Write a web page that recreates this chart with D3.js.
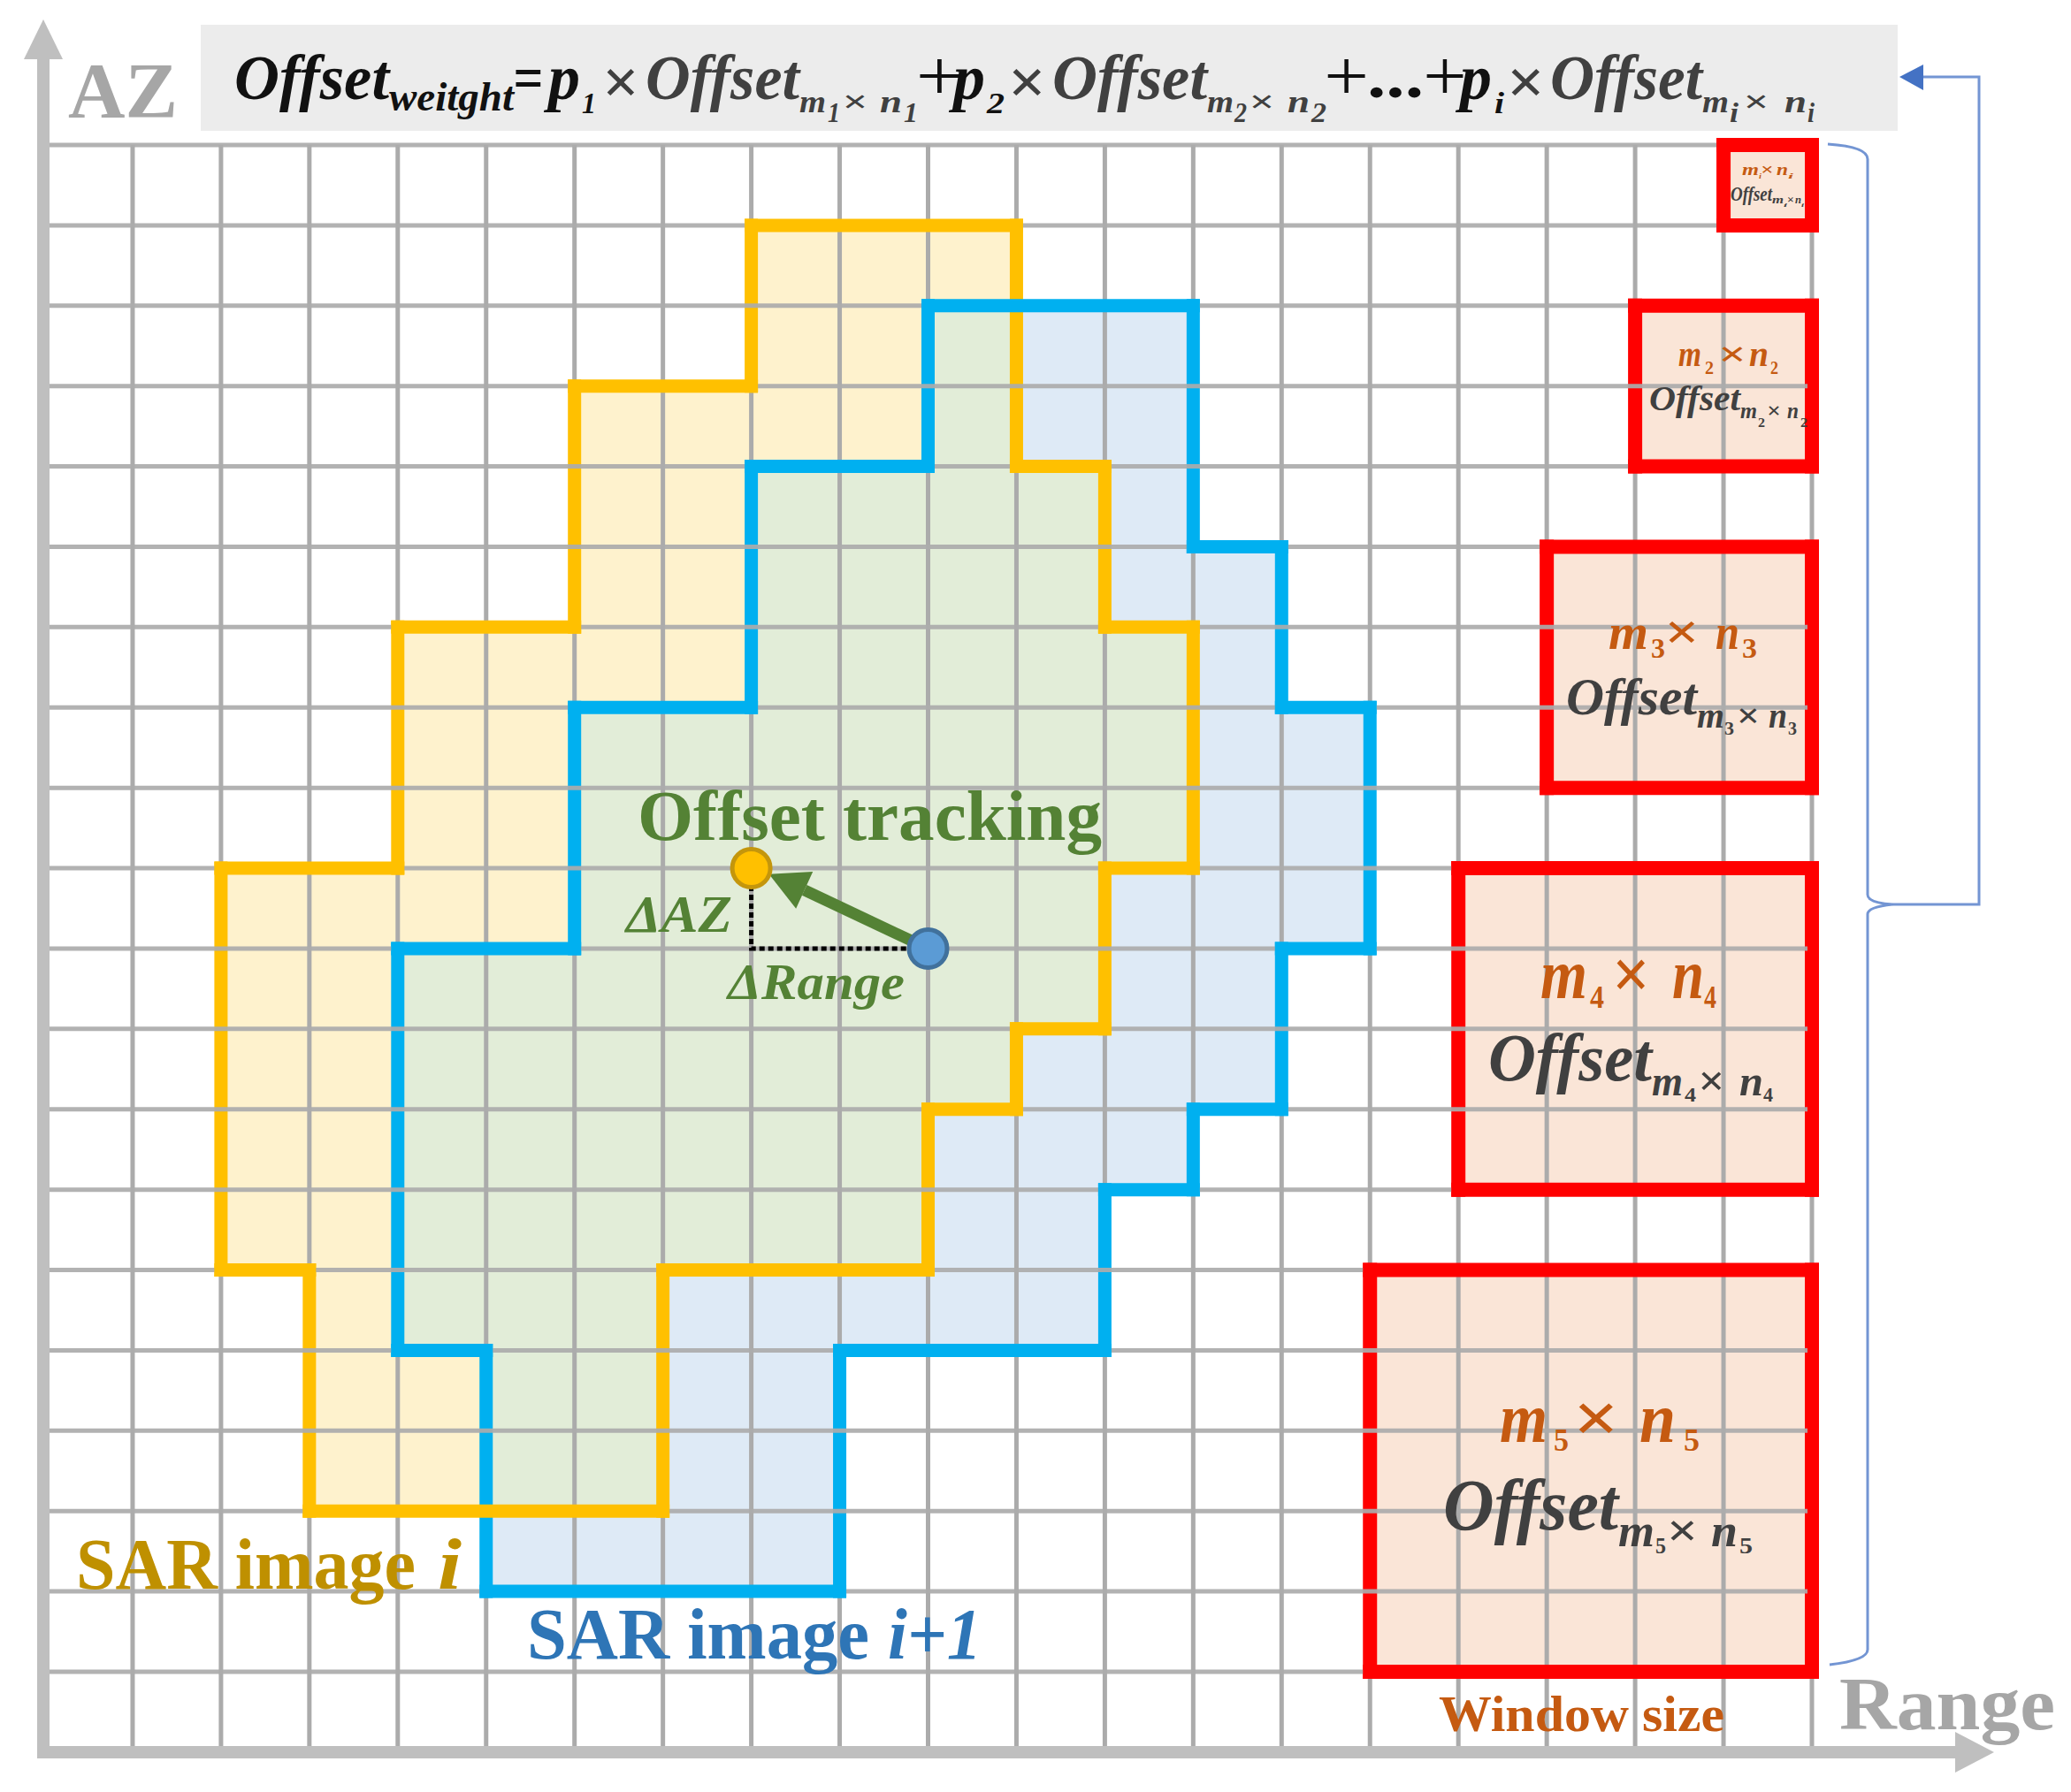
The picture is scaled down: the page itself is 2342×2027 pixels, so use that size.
<!DOCTYPE html>
<html>
<head>
<meta charset="utf-8">
<script src="https://cdn.jsdelivr.net/npm/d3@7"></script>
<style>
  body { margin: 0; background: #fff; }
  svg { display: block; }
  text { font-family: "Liberation Serif", serif; }
</style>
</head>
<body>
<svg id="chart" width="2342" height="2027"></svg>
<script>
// grid cells, columns along Range and rows along AZ
var colCount = 20;
var rowCount = 19;

// outlines of the two SAR images, as [column, row] corners
var imageOutlineI = [[8,1],[11,1],[11,4],[12,4],[12,6],[13,6],[13,9],[12,9],[12,11],[11,11],[11,12],[10,12],[10,14],[7,14],[7,17],[3,17],[3,14],[2,14],[2,9],[4,9],[4,6],[6,6],[6,3],[8,3]];
var imageOutlineNext = [[10,2],[13,2],[13,5],[14,5],[14,7],[15,7],[15,10],[14,10],[14,12],[13,12],[13,13],[12,13],[12,15],[9,15],[9,18],[5,18],[5,15],[4,15],[4,10],[6,10],[6,7],[8,7],[8,4],[10,4]];

// search windows: first column, first row, last column, last row
var windowBoxes = [[19,0,20,1],[18,2,20,4],[17,5,20,8],[16,9,20,13],[15,14,20,19]];

// tracked point before and after, as [column, row]
var pointBefore = [10,10];
var pointAfter = [8,9];

var svg = d3.select("#chart");
var x = d3.scaleLinear().domain([0, colCount]).range([50, 2049]);
var y = d3.scaleLinear().domain([0, rowCount]).range([164, 1891]);

var gridColor = "#ababab";
var axisColor = "#bfbfbf";
var red = "#ff0000";
var darkText = "#404040";
var orangeText = "#c55a11";
var green = "#548235";

var line = d3.line().x(function(d) { return x(d[0]); }).y(function(d) { return y(d[1]); }).curve(d3.curveLinearClosed);

function edges(corners) {
   return corners.map(function(c, i) { return [c, corners[(i + 1) % corners.length]]; });
}
function boxCorners(b) {
   return [[b[0],b[1]],[b[2],b[1]],[b[2],b[3]],[b[0],b[3]]];
}
function drawEdges(list, color, width) {
   svg.append("g").selectAll("line").data(list).join("line")
      .attr("x1", function(d) { return x(d[0][0]); })
      .attr("y1", function(d) { return y(d[0][1]); })
      .attr("x2", function(d) { return x(d[1][0]); })
      .attr("y2", function(d) { return y(d[1][1]); })
      .attr("stroke", color)
      .attr("stroke-width", width)
      .attr("stroke-linecap", "square");
}
function isVertical(e) { return e[0][0] == e[1][0]; }
function isHorizontal(e) { return e[0][1] == e[1][1]; }

function txt(str, px, base, size, width, color, bold, italic) {
   var t = svg.append("text")
      .attr("x", px)
      .attr("y", base)
      .attr("font-size", size)
      .attr("fill", color)
      .attr("font-weight", bold === false ? "normal" : "bold")
      .attr("font-style", italic === false ? "normal" : "italic")
      .text(str);
   if (width) t.attr("textLength", width).attr("lengthAdjust", "spacingAndGlyphs");
   return t;
}

// x0 and x1 are the ink edges of an operator sign, the advance is a bit wider
function sign(str, x0, x1, base, size, color, bold) {
   var w = x1 - x0;
   txt(str, x0 - w * 0.15, base, size, w * 1.3, color, bold, false);
}

// m x n text, xs holds start and end of m, index, cross, n, index
function sizeLabel(sub, base, subBase, size, color, xs, subScale, upright) {
   var subSize = size * (subScale || 0.5);
   txt("m", xs[0], base, size, xs[1] - xs[0], color);
   txt(sub, xs[2], subBase, subSize, xs[3] - xs[2], color, true, !upright);
   sign("×", xs[4], xs[5], base, size, color, true);
   txt("n", xs[6], base, size, xs[7] - xs[6], color);
   txt(sub, xs[8], subBase, subSize, xs[9] - xs[8], color, true, !upright);
}

// formula band
svg.append("rect").attr("x", 227).attr("y", 28).attr("width", 1919).attr("height", 120).attr("fill", "#ececec");

// image and window fills
svg.append("clipPath").attr("id", "clip-next").append("path").attr("d", line(imageOutlineNext));
svg.append("path").attr("d", line(imageOutlineI)).attr("fill", "#fef2cd");
svg.append("path").attr("d", line(imageOutlineNext)).attr("fill", "#deeaf6");
svg.append("path").attr("d", line(imageOutlineI)).attr("fill", "#e2edd8").attr("clip-path", "url(#clip-next)");
svg.append("g").selectAll("path").data(windowBoxes).join("path")
   .attr("d", function(d) { return line(boxCorners(d)); })
   .attr("fill", "#fae5d7");

// vertical grid, then vertical strokes, then horizontal grid, then horizontal strokes
svg.append("g").selectAll("line").data(d3.range(1, colCount + 1)).join("line")
   .attr("x1", function(d) { return x(d); }).attr("x2", function(d) { return x(d); })
   .attr("y1", y(0)).attr("y2", 1978)
   .attr("stroke", gridColor).attr("stroke-width", 5);

var boxEdges = d3.merge(windowBoxes.map(function(b) { return edges(boxCorners(b)); }));
drawEdges(edges(imageOutlineI).filter(isVertical), "#ffc000", 15);
drawEdges(edges(imageOutlineNext).filter(isVertical), "#00b0f0", 15);
drawEdges(boxEdges.filter(isVertical), red, 16);

svg.append("g").selectAll("line").data(d3.range(0, rowCount + 1)).join("line")
   .attr("x1", x(0)).attr("x2", x(colCount) - 5)
   .attr("y1", function(d) { return y(d); }).attr("y2", function(d) { return y(d); })
   .attr("stroke", gridColor).attr("stroke-width", 5).attr("stroke-opacity", 0.92);

drawEdges(edges(imageOutlineNext).filter(isHorizontal), "#00b0f0", 15);
drawEdges(edges(imageOutlineI).filter(isHorizontal), "#ffc000", 15);
drawEdges(boxEdges.filter(isHorizontal), red, 16);

// axes
svg.append("line").attr("x1", 49).attr("x2", 49).attr("y1", 60).attr("y2", 1989).attr("stroke", axisColor).attr("stroke-width", 14);
svg.append("line").attr("x1", 42).attr("x2", 2220).attr("y1", 1982).attr("y2", 1982).attr("stroke", axisColor).attr("stroke-width", 14);
svg.append("path").attr("d", "M49,22L71,67L27,67Z").attr("fill", axisColor);
svg.append("path").attr("d", "M2255,1982L2211,1959L2211,2005Z").attr("fill", axisColor);

// brace and feedback arrow
var braceX = x(colCount) + 63;
var braceTip = 1023;
svg.append("path")
   .attr("d", "M" + (x(colCount) + 18) + "," + (y(0) - 1)
      + "Q" + braceX + "," + (y(0) + 2) + " " + braceX + "," + (y(0) + 16)
      + "L" + braceX + "," + (braceTip - 11)
      + "Q" + braceX + "," + (braceTip - 2) + " " + (braceX + 28) + "," + braceTip
      + "Q" + braceX + "," + (braceTip + 3) + " " + braceX + "," + (braceTip + 11)
      + "L" + braceX + "," + (y(rowCount) - 25)
      + "Q" + braceX + "," + (y(rowCount) - 13) + " " + (x(colCount) + 20) + "," + (y(rowCount) - 8))
   .attr("fill", "none").attr("stroke", "#4472c4").attr("stroke-width", 3).attr("stroke-opacity", 0.75);
svg.append("path")
   .attr("d", "M" + (braceX + 28) + "," + braceTip + "H2238V87H2165")
   .attr("fill", "none").attr("stroke", "#4472c4").attr("stroke-width", 3).attr("stroke-opacity", 0.75);
svg.append("path").attr("d", "M2148,87L2175,73L2175,102Z").attr("fill", "#4472c4");

// offset vector
var bx = x(pointBefore[0]), by = y(pointBefore[1]);
var ax = x(pointAfter[0]), ay = y(pointAfter[1]);
svg.append("path")
   .attr("d", "M" + ax + "," + ay + "V" + by + "H" + bx)
   .attr("fill", "none").attr("stroke", "#000").attr("stroke-width", 5).attr("stroke-dasharray", "6,4");

var len = Math.hypot(ax - bx, ay - by);
var ux = (ax - bx) / len, uy = (ay - by) / len;
var tipX = ax - ux * 22, tipY = ay - uy * 16;
var baseX = tipX - ux * 44, baseY = tipY - uy * 44;
svg.append("line").attr("x1", bx).attr("y1", by).attr("x2", baseX).attr("y2", baseY).attr("stroke", green).attr("stroke-width", 13);
svg.append("path")
   .attr("d", "M" + tipX + "," + tipY + "L" + (baseX - uy * 23) + "," + (baseY + ux * 23) + "L" + (baseX + uy * 23) + "," + (baseY - ux * 23) + "Z")
   .attr("fill", green);
svg.append("circle").attr("cx", ax).attr("cy", ay).attr("r", 21.5).attr("fill", "#ffc000").attr("stroke", "#c4960c").attr("stroke-width", 5);
svg.append("circle").attr("cx", bx).attr("cy", by).attr("r", 21.5).attr("fill", "#5b9bd5").attr("stroke", "#41719c").attr("stroke-width", 5);

// axis and image labels
txt("AZ", 77, 132, 89, 124, "#a6a6a6", true, false);
txt("Range", 2080, 1956, 85, 244, "#a6a6a6", true, false);
txt("Window size", 1627, 1958, 58, 323, orangeText, true, false);
txt("SAR image", 86, 1797, 83, 384, "#bf9000", true, false);
txt("i", 495, 1797, 83, 27, "#bf9000", true, true);
txt("SAR image", 596, 1876, 83, 387, "#2e75b6", true, false);
txt("i+1", 1004, 1876, 83, 106, "#2e75b6", true, true);
txt("Offset tracking", 721, 950, 80, 525, green, true, false);
txt("ΔAZ", 708, 1054, 59, 120, green, true, true);
txt("ΔRange", 823, 1130, 58, 200, green, true, true);

// formula
txt("Offset", 265, 112, 72, 175, "#111");
txt("weitght", 440, 125, 46, 141, "#111");
txt("=", 580, 112, 72, 34, "#111");
txt("p", 620, 112, 72, 36, "#111");
txt("1", 658, 128, 34, 16, "#111");
sign("×", 686, 718, 117, 72, darkText, true);
txt("Offset", 730, 112, 72, 174, darkText);
sizeLabel("1", 127, 138, 36, darkText, [904,934, 936,950, 956,978, 995,1020, 1022,1038], 0.9);
sign("+", 1042, 1083, 113, 80, "#111", false);
txt("p", 1078, 112, 72, 36, "#111");
txt("2", 1116, 128, 34, 20, "#111");
sign("×", 1145, 1178, 117, 72, darkText, true);
txt("Offset", 1190, 112, 72, 175, darkText);
sizeLabel("2", 127, 138, 36, darkText, [1365,1395, 1396,1410, 1416,1438, 1456,1481, 1483,1500], 0.9);
sign("+", 1503, 1542, 113, 80, "#111", false);
txt("...", 1546, 110, 72, 64, "#111", true, false);
sign("+", 1615, 1653, 113, 80, "#111", false);
txt("p", 1651, 112, 72, 36, "#111");
txt("i", 1690, 128, 34, 11, "#111");
sign("×", 1709, 1742, 117, 72, darkText, true);
txt("Offset", 1753, 112, 72, 172, darkText);
sizeLabel("i", 127, 138, 36, darkText, [1925,1955, 1956,1966, 1975,1997, 2018,2043, 2044,2052], 0.9);

// window labels, smallest to largest
sizeLabel("i", 198, 202, 18, orangeText, [1970,1989, 1989,1992, 1993,2004, 2009,2022, 2022,2028]);
txt("Offset", 1957, 227, 24, 47, darkText);
sizeLabel("i", 230, 234, 12, darkText, [2004,2017, 2017,2021, 2022,2028, 2030,2037, 2037,2040]);

sizeLabel("2", 414, 423, 40, orangeText, [1898,1924, 1928,1938, 1947,1971, 1978,2000, 2002,2011], 0.55, true);
txt("Offset", 1865, 464, 40, 103, darkText);
sizeLabel("2", 473, 483, 26, darkText, [1968,1987, 1988,1996, 2000,2012, 2021,2034, 2036,2044], 0.55, true);

sizeLabel("3", 734, 744, 58, orangeText, [1819,1864, 1867,1883, 1887,1917, 1940,1967, 1970,1987], 0.55, true);
txt("Offset", 1771, 808, 60, 148, darkText);
sizeLabel("3", 823, 831, 40, darkText, [1919,1950, 1950,1961, 1967,1987, 2000,2021, 2022,2032], 0.55, true);

sizeLabel("4", 1129, 1140, 80, orangeText, [1742,1795, 1798,1814, 1828,1861, 1891,1927, 1927,1941], 0.45, true);
txt("Offset", 1683, 1222, 76, 185, darkText);
sizeLabel("4", 1239, 1246, 48, darkText, [1868,1903, 1905,1918, 1924,1947, 1967,1994, 1994,2005], 0.5, true);

sizeLabel("5", 1631, 1641, 80, orangeText, [1696,1750, 1757,1774, 1785,1825, 1854,1895, 1904,1922], 0.45, true);
txt("Offset", 1632, 1730, 82, 198, darkText);
sizeLabel("5", 1749, 1757, 52, darkText, [1830,1871, 1872,1884, 1889,1916, 1935,1965, 1967,1982], 0.5, true);
</script>
</body>
</html>
